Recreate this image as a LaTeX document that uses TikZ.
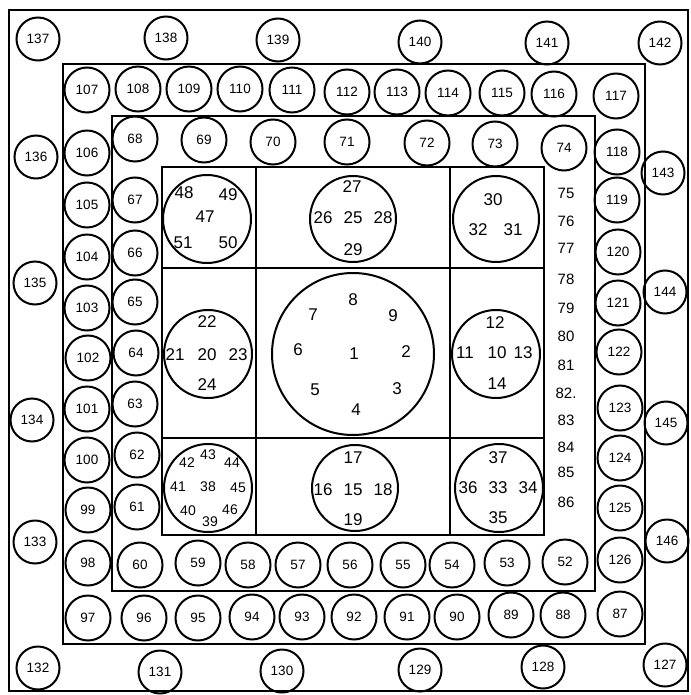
\documentclass[tikz,border=0pt]{standalone}
\usepackage{fontspec}
\setmainfont{Liberation Sans}
\begin{document}
\begin{tikzpicture}[x=1pt,y=-1pt,line width=2pt,
  rc/.style={circle,draw,minimum size=45pt,inner sep=0pt,font=\fontsize{13.5}{13.5}\selectfont},
  oc/.style={rc,minimum size=43pt},
  bc/.style={circle,draw,inner sep=0pt},
  lab/.style={inner sep=0pt,font=\fontsize{17}{17}\selectfont},
  slab/.style={inner sep=0pt,font=\fontsize{14}{14}\selectfont}]
\fill[white] (0,0) rectangle (690,695);
\useasboundingbox (0,0) rectangle (690,695);
% frames
\draw (9,10) rectangle (688,691);
\draw (63,64) rectangle (645,644);
\draw (112,116) rectangle (595,591);
\draw (162,167) rectangle (544,535);
\draw (256,167) -- (256,535);
\draw (450,167) -- (450,535);
\draw (162,268) -- (544,268);
\draw (162,438) -- (544,438);
% outer ring
\foreach \n/\x/\y in {137/38/39,138/166/38,139/278/40,140/420/42,141/547/43,142/660/43,
  143/663/173,144/665/292,145/666/423,146/667/541,127/665/665,128/543/667,129/420/670,
  130/282/671,131/160/672,132/38/668,133/35/542,134/32/420,135/35/283,136/36/157}
  \node[oc] (c\n) at (\x,\y) {\n};
% second ring
\foreach \n/\x/\y in {107/87/90,108/138/89,109/189/89,110/240/89,111/292/90,112/347/92,
  113/397/92,114/448/93,115/502/93,116/554/94,117/616/96,118/617/152,119/617/200,
  120/618/252,121/618/303,122/619/352,123/620/408,124/620/458,125/620/508,126/620/560,
  87/620/614,88/563/615,89/511/615,90/457/617,91/407/617,92/354/617,93/302/617,94/252/617,
  95/198/618,96/144/618,97/88/618,98/88/563,99/88/510,100/87/460,101/87/409,102/88/358,
  103/87/308,104/87/257,105/87/205,106/87/153}
  \node[rc] (c\n) at (\x,\y) {\n};
% third ring
\foreach \n/\x/\y in {68/135/139,69/204/140,70/273/142,71/347/142,72/427/143,73/495/144,
  74/564/148,67/135/200,66/135/253,65/135/302,64/136/353,63/135/404,62/137/455,61/137/507,
  60/140/565,59/198/563,58/248/565,57/298/565,56/350/565,55/403/565,54/452/565,53/507/563,
  52/565/562}
  \node[rc] (c\n) at (\x,\y) {\n};
% column 75-86
\foreach \n/\y in {75/193,76/221,77/248,78/279,79/308,80/336,81/365,82./393,83/420,84/447,85/472,86/502}
  \node[lab,font=\fontsize{15}{15}\selectfont] (t\n) at (566,\y) {\n};
% big circles
\node[bc,minimum size=88pt] (b47) at (207,219) {};
\node[bc,minimum size=86pt] (b25) at (353,219) {};
\node[bc,minimum size=86pt] (b30) at (496,219) {};
\node[bc,minimum size=88pt] (b20) at (208,354) {};
\node[bc,minimum size=162pt] (b1) at (353,354) {};
\node[bc,minimum size=88pt] (b10) at (496,354) {};
\node[bc,minimum size=88pt] (b38) at (208,488) {};
\node[bc,minimum size=86pt] (b15) at (355,488) {};
\node[bc,minimum size=88pt] (b33) at (499,488) {};
% labels in big circles
\foreach \n/\x/\y in {48/184/193,49/228/195,47/205/217,51/183/243,50/228/243,
  27/352/187,26/323/218,25/353/218,28/383/218,29/353/250,
  30/493/200,32/478/230,31/513/230,
  22/207/322,21/175/355,20/207/355,23/238/355,24/207/385,
  8/353/300,9/393/316,7/313/315,6/298/350,1/354/354,2/406/352,5/315/390,3/397/389,4/356/410,
  12/495/323,11/465/353,10/497/353,13/523/353,14/497/384,
  17/353/458,16/323/490,15/353/490,18/383/490,19/353/520,
  37/498/458,36/468/488,33/498/488,34/528/488,35/498/518}
  \node[lab] (t\n) at (\x,\y) {\n};
\foreach \n/\x/\y in {43/208/455,42/187/463,44/232/463,41/178/487,38/208/487,45/238/488,
  40/188/511,39/210/522,46/230/510}
  \node[slab] (t\n) at (\x,\y) {\n};
\end{tikzpicture}
\end{document}
